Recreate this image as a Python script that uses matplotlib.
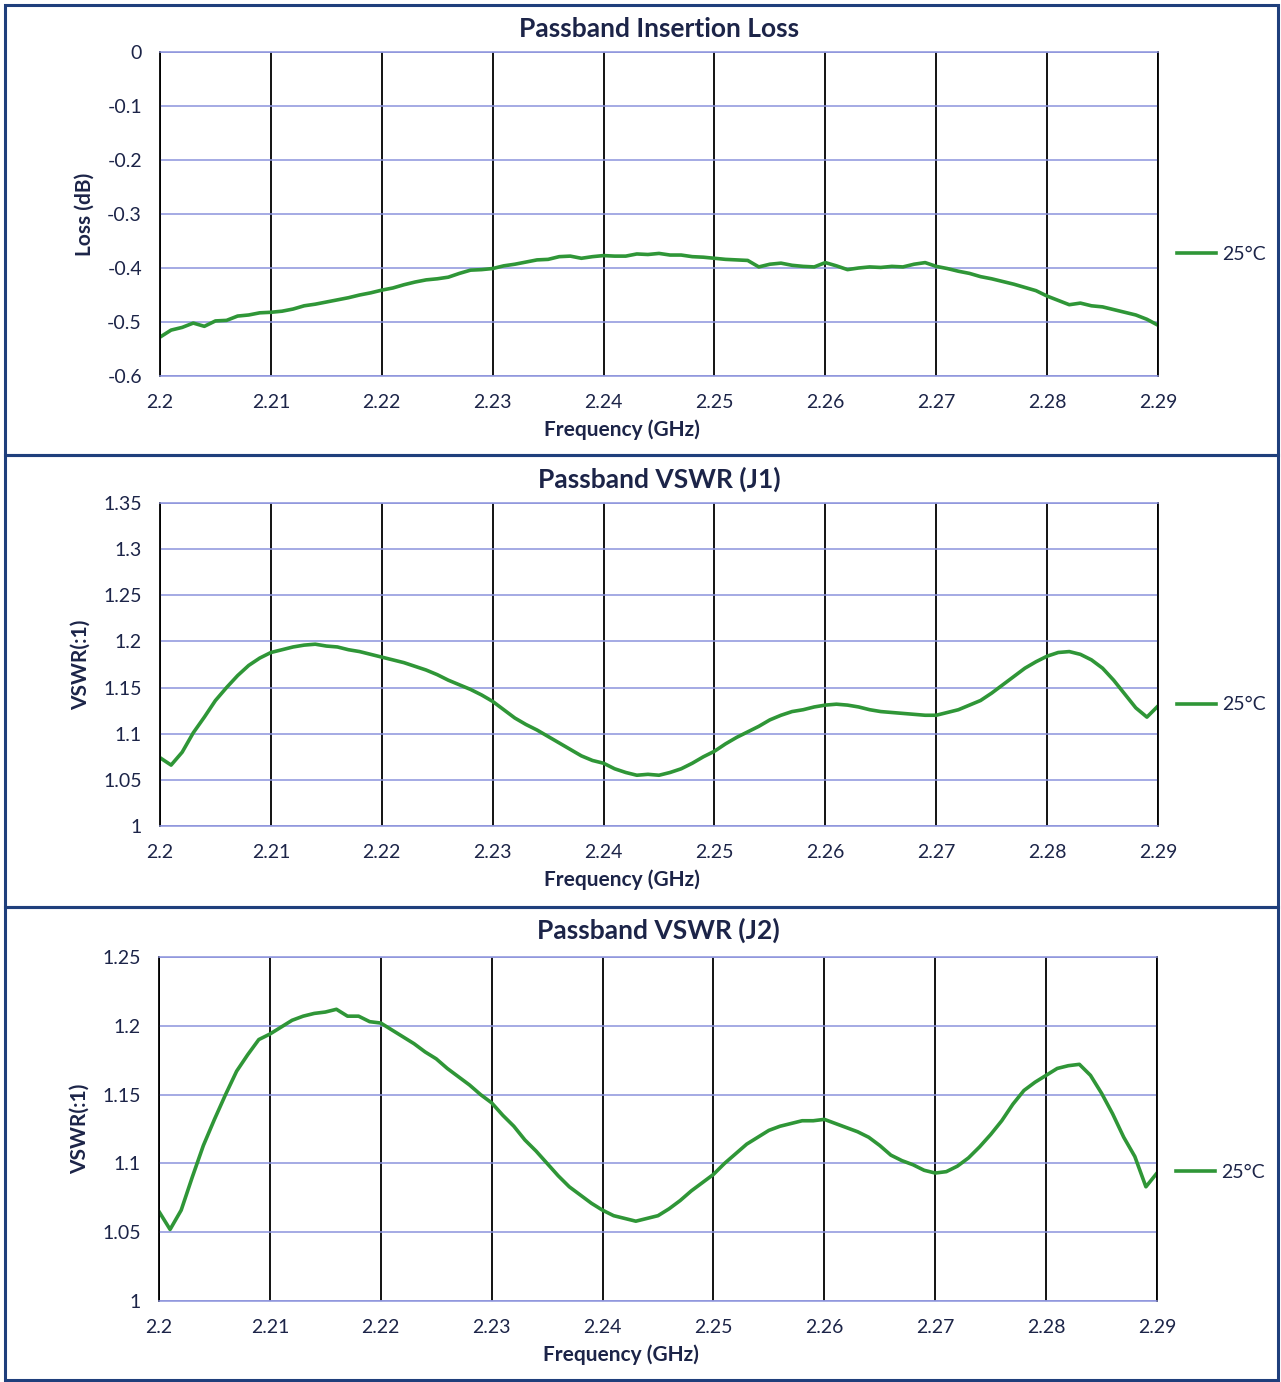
import matplotlib
matplotlib.use('Agg')
import matplotlib.pyplot as plt
from matplotlib.patches import Rectangle

# frequency points (GHz), 1 MHz step
freq = [round(2.200 + 0.001 * i, 3) for i in range(91)]

loss = [-0.528, -0.515, -0.510, -0.502, -0.508, -0.498, -0.497, -0.489, -0.487, -0.483,
        -0.482, -0.480, -0.476, -0.470, -0.467, -0.463, -0.459, -0.455, -0.450, -0.446,
        -0.441, -0.437, -0.431, -0.426, -0.422, -0.420, -0.417, -0.410, -0.404, -0.403,
        -0.401, -0.396, -0.393, -0.389, -0.385, -0.384, -0.379, -0.378, -0.382, -0.379,
        -0.377, -0.378, -0.378, -0.374, -0.375, -0.373, -0.376, -0.376, -0.379, -0.380,
        -0.382, -0.384, -0.385, -0.386, -0.398, -0.393, -0.391, -0.395, -0.397, -0.398,
        -0.390, -0.396, -0.403, -0.400, -0.398, -0.399, -0.397, -0.398, -0.393, -0.390,
        -0.397, -0.401, -0.406, -0.410, -0.416, -0.420, -0.425, -0.430, -0.436, -0.442,
        -0.452, -0.460, -0.468, -0.465, -0.470, -0.472, -0.477, -0.482, -0.487, -0.495,
        -0.506]

vswr_j1 = [1.074, 1.066, 1.080, 1.101, 1.118, 1.136, 1.150, 1.163, 1.174, 1.182,
           1.188, 1.191, 1.194, 1.196, 1.197, 1.195, 1.194, 1.191, 1.189, 1.186,
           1.183, 1.180, 1.177, 1.173, 1.169, 1.164, 1.158, 1.153, 1.148, 1.142,
           1.135, 1.126, 1.117, 1.110, 1.104, 1.097, 1.090, 1.083, 1.076, 1.071,
           1.068, 1.062, 1.058, 1.055, 1.056, 1.055, 1.058, 1.062, 1.068, 1.075,
           1.081, 1.089, 1.096, 1.102, 1.108, 1.115, 1.120, 1.124, 1.126, 1.129,
           1.131, 1.132, 1.131, 1.129, 1.126, 1.124, 1.123, 1.122, 1.121, 1.120,
           1.120, 1.123, 1.126, 1.131, 1.136, 1.144, 1.153, 1.162, 1.171, 1.178,
           1.184, 1.188, 1.189, 1.186, 1.180, 1.171, 1.158, 1.143, 1.128, 1.118,
           1.130]

vswr_j2 = [1.065, 1.052, 1.066, 1.090, 1.113, 1.132, 1.150, 1.167, 1.179, 1.190,
           1.194, 1.199, 1.204, 1.207, 1.209, 1.210, 1.212, 1.207, 1.207, 1.203,
           1.202, 1.197, 1.192, 1.187, 1.181, 1.176, 1.169, 1.163, 1.157, 1.150,
           1.144, 1.135, 1.127, 1.117, 1.109, 1.100, 1.091, 1.083, 1.077, 1.071,
           1.066, 1.062, 1.060, 1.058, 1.060, 1.062, 1.067, 1.073, 1.080, 1.086,
           1.092, 1.100, 1.107, 1.114, 1.119, 1.124, 1.127, 1.129, 1.131, 1.131,
           1.132, 1.129, 1.126, 1.123, 1.119, 1.113, 1.106, 1.102, 1.099, 1.095,
           1.093, 1.094, 1.098, 1.104, 1.112, 1.121, 1.131, 1.143, 1.153, 1.159,
           1.164, 1.169, 1.171, 1.172, 1.164, 1.151, 1.136, 1.119, 1.105, 1.083,
           1.093]

x_ticks = [2.20, 2.21, 2.22, 2.23, 2.24, 2.25, 2.26, 2.27, 2.28, 2.29]
x_labels = ['2.2', '2.21', '2.22', '2.23', '2.24', '2.25', '2.26', '2.27', '2.28', '2.29']

loss_ticks = [0, -0.1, -0.2, -0.3, -0.4, -0.5, -0.6]
loss_labels = ['0', '-0.1', '-0.2', '-0.3', '-0.4', '-0.5', '-0.6']
j1_ticks = [1.0, 1.05, 1.1, 1.15, 1.2, 1.25, 1.3, 1.35]
j1_labels = ['1', '1.05', '1.1', '1.15', '1.2', '1.25', '1.3', '1.35']
j2_ticks = [1.0, 1.05, 1.1, 1.15, 1.2, 1.25]
j2_labels = ['1', '1.05', '1.1', '1.15', '1.2', '1.25']

titles = ['Passband Insertion Loss', 'Passband VSWR (J1)', 'Passband VSWR (J2)']
ylabels = ['Loss (dB)', 'VSWR(:1)', 'VSWR(:1)']
series_name = '25°C'

plt.rcParams['font.family'] = ['Lato', 'DejaVu Sans']
navy = '#1c2448'
green = '#2f9637'
hgrid = '#8c93dc'
W, H = 1281, 1382

fig = plt.figure(figsize=(W / 100, H / 100), dpi=100)
fig.patch.set_facecolor('white')

# panel boxes (pixels: left, top, right, bottom)
boxes = [(5, 5, 1278, 455), (5, 455, 1278, 907), (5, 907, 1278, 1380)]
for l, t, r, b in boxes:
    fig.add_artist(Rectangle((l / W, 1 - b / H), (r - l) / W, (b - t) / H,
                             transform=fig.transFigure, fill=False,
                             edgecolor='#1f3f7c', linewidth=2.2))

# axes placement in pixels: left, top, right, bottom
axes_px = [(160, 52, 1158, 376), (160, 503, 1158, 826), (159, 957, 1157, 1301)]
data = [loss, vswr_j1, vswr_j2]
yticks = [loss_ticks, j1_ticks, j2_ticks]
ylabs = [loss_labels, j1_labels, j2_labels]
title_pads = [11, 11, 13]

for i in range(3):
    l, t, r, b = axes_px[i]
    ax = fig.add_axes([l / W, 1 - b / H, (r - l) / W, (b - t) / H])
    ax.plot(freq, data[i], color=green, linewidth=2.6, label=series_name)
    ax.set_xlim(2.2, 2.29)
    ax.set_ylim(min(yticks[i]), max(yticks[i]))
    ax.set_xticks(x_ticks)
    ax.set_xticklabels(x_labels)
    ax.set_yticks(yticks[i])
    ax.set_yticklabels(ylabs[i])
    ax.tick_params(length=0, labelsize=14, labelcolor=navy)
    ax.tick_params(axis='y', pad=13)
    ax.tick_params(axis='x', pad=13)
    ax.grid(axis='y', color=hgrid, linewidth=1.1)
    ax.grid(axis='x', color='black', linewidth=1.3)
    ax.set_axisbelow(True)
    for s in ['left', 'right']:
        ax.spines[s].set_color('black')
        ax.spines[s].set_linewidth(1.3)
    for s in ['top', 'bottom']:
        ax.spines[s].set_color(hgrid)
        ax.spines[s].set_linewidth(1.1)
    ax.set_title(titles[i], fontsize=19, fontweight='bold', color=navy, pad=title_pads[i])
    ax.set_xlabel('Frequency (GHz)', fontsize=15, fontweight='bold', color=navy, labelpad=6)
    ax.xaxis.label.set_x(0.463)
    ax.set_ylabel(ylabels[i], fontsize=15, fontweight='bold', color=navy, labelpad=9)
    ax.legend(loc='center left', bbox_to_anchor=(1.019, 0.375), frameon=False,
              fontsize=14, handlelength=2.0, handletextpad=0.3, borderpad=0,
              borderaxespad=0, labelcolor=navy)

fig.savefig('out.png', dpi=100, facecolor='white')
